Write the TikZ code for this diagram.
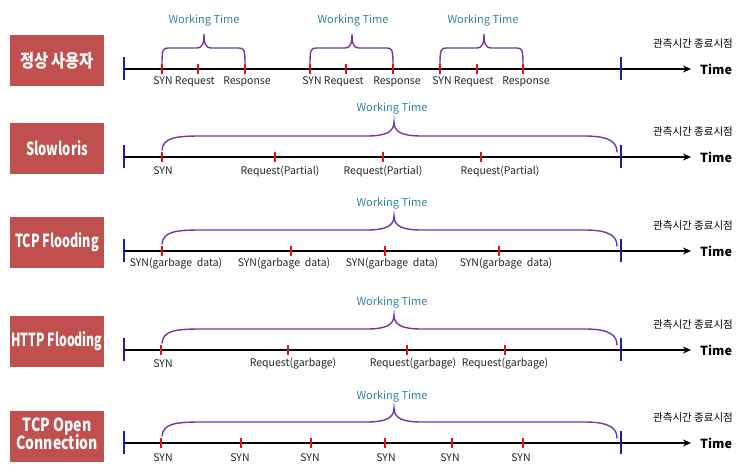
\documentclass[tikz,border=0pt]{standalone}
\usepackage{fontspec}
\usepackage{graphicx}
\setmainfont{Noto Sans CJK KR}
\usetikzlibrary{arrows.meta}
\definecolor{boxred}{RGB}{192,80,77}
\definecolor{wteal}{RGB}{49,133,155}
\definecolor{brpurple}{RGB}{112,56,160}
\definecolor{tickred}{RGB}{225,20,20}
\definecolor{tickblue}{RGB}{30,30,160}
\newcommand\smallbrace[3]{%
 \draw[wbrace] (#1,64) .. controls (#1,50) and (#1+1,48) .. (#1+6,48) -- (#2-7,48)
   .. controls (#2-2,48) and (#2,44) .. (#2,34)
   .. controls (#2,44) and (#2+2,48) .. (#2+7,48) -- (#3-6,48)
   .. controls (#3-1,48) and (#3,50) .. (#3,64);}
\newcommand\bigbrace[1]{%
 \draw[wbrace] (162,#1-7) .. controls (163,#1-19) and (175,#1-21) .. (200,#1-21) -- (366,#1-21)
   .. controls (386,#1-21) and (394,#1-25) .. (394,#1-35)
   .. controls (394,#1-25) and (402,#1-21) .. (422,#1-21) -- (585,#1-21)
   .. controls (609,#1-21) and (617,#1-15) .. (617,#1-5);}
\begin{document}
\begin{tikzpicture}[x=1pt,y=-1pt,
  rowlabel/.style={fill=boxred, text=white, minimum width=94pt, minimum height=51pt, inner sep=0pt,
    font=\bfseries\fontsize{18}{20}\selectfont, align=center},
  mainline/.style={line width=2pt, -{Stealth[length=8pt,width=7pt]}},
  bluetick/.style={line width=2pt, tickblue},
  redtick/.style={line width=2.2pt, tickred},
  wbrace/.style={line width=1.4pt, brpurple, line cap=round},
  wt/.style={text=wteal, font=\fontsize{11}{12}\selectfont, inner sep=0pt},
  evt/.style={text=black!85, font=\fontsize{10.5}{12}\selectfont, inner sep=0pt},
  timelbl/.style={anchor=west, font=\bfseries\fontsize{12.5}{15}\selectfont, inner sep=0pt},
  endlbl/.style={font=\fontsize{10.5}{12}\selectfont, inner sep=0pt}]
\useasboundingbox (0,0) rectangle (744,474);

% timelines
\foreach \nm/\L in {a/69, b/157, c/251, d/350, e/443} {
  \coordinate (\nm-s) at (124,\L);
  \coordinate (\nm-e) at (621,\L);
  \coordinate (\nm-a) at (691,\L);
  \draw[mainline] (\nm-s) -- (\nm-a);
  \draw[bluetick] ([yshift=12pt]\nm-s) -- ([yshift=-11pt]\nm-s);
  \draw[bluetick] ([yshift=12pt]\nm-e) -- ([yshift=-11pt]\nm-e);
  \node[timelbl] (\nm-time) at (700,\L) {Time};
  \node[endlbl] (\nm-end) at (693,\L-25) {관측시간 종료시점};
}

% row labels
\node[rowlabel] (a-lbl) at (57,60.5) {\scalebox{0.85}[1]{정상 사용자}};
\node[rowlabel] (b-lbl) at (57,148.5) {\scalebox{0.72}[1]{Slowloris}};
\node[rowlabel] (c-lbl) at (57,242.5) {\scalebox{0.7}[1]{TCP Flooding}};
\node[rowlabel] (d-lbl) at (57,341) {\scalebox{0.68}[1]{HTTP Flooding}};
\node[rowlabel] (e-lbl) at (57,436.5) {\scalebox{0.78}[1]{\begin{tabular}{@{}c@{}}TCP Open\\[-3pt]Connection\end{tabular}}};

% row a: normal user
\foreach \x [count=\i] in {162,198,245,310,346,393,440,477,523}
  {\coordinate (a-t\i) at (\x,69); \draw[redtick] (\x,64) -- (\x,74);}
\smallbrace{162}{204}{245}
\smallbrace{310}{352}{393}
\smallbrace{440}{484}{523}
\node[wt] (a-wt1) at (204,20) {Working Time};
\node[wt] (a-wt2) at (353,20) {Working Time};
\node[wt] (a-wt3) at (483,20) {Working Time};
\foreach \x/\t [count=\i] in {184/SYN Request,247/Response,333/SYN Request,397/Response,463/SYN Request,526/Response}
  \node[evt] (a-l\i) at (\x,82) {\t};

% row b: slowloris
\foreach \x [count=\i] in {162,275,383,481}
  {\coordinate (b-t\i) at (\x,157); \draw[redtick] (\x,152) -- (\x,162);}
\bigbrace{157}
\node[wt] (b-wt) at (392,108) {Working Time};
\foreach \x/\t [count=\i] in {163/SYN,280/Request(Partial),383/Request(Partial),500/Request(Partial)}
  \node[evt] (b-l\i) at (\x,171) {\t};

% row c: TCP flooding
\foreach \x [count=\i] in {162,291,385,499}
  {\coordinate (c-t\i) at (\x,251); \draw[redtick] (\x,246) -- (\x,256);}
\bigbrace{251}
\node[wt] (c-wt) at (392,203) {Working Time};
\foreach \x [count=\i] in {176,284,392,506}
  \node[evt] (c-l\i) at (\x,264) {SYN(garbage\ \ data)};

% row d: HTTP flooding
\foreach \x [count=\i] in {161,288,407,505}
  {\coordinate (d-t\i) at (\x,350); \draw[redtick] (\x,345) -- (\x,355);}
\bigbrace{350}
\node[wt] (d-wt) at (392,302) {Working Time};
\foreach \x/\t [count=\i] in {163/SYN,293/Request(garbage),413/Request(garbage),505/Request(garbage)}
  \node[evt] (d-l\i) at (\x,364) {\t};

% row e: TCP open connection
\foreach \x [count=\i] in {161,241,311,385,452,523}
  {\coordinate (e-t\i) at (\x,443); \draw[redtick] (\x,438) -- (\x,448);}
\bigbrace{443}
\node[wt] (e-wt) at (392,396) {Working Time};
\foreach \x [count=\i] in {163,240,310,386,450,521}
  \node[evt] (e-l\i) at (\x,458) {SYN};
\end{tikzpicture}
\end{document}
